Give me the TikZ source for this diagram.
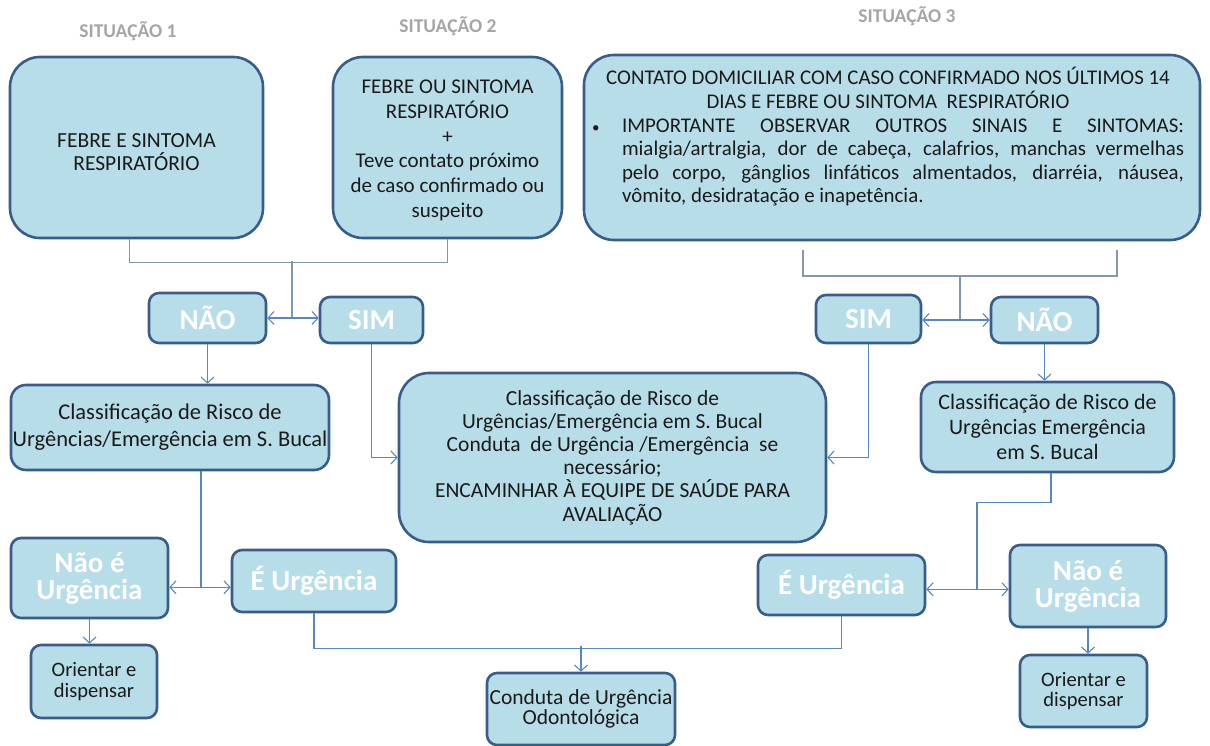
\documentclass[tikz,border=0pt]{standalone}
\usepackage{fontspec}
\setmainfont{Carlito}
\usetikzlibrary{arrows.meta,calc}
\definecolor{fillc}{HTML}{B7DDE8}
\definecolor{bdr}{HTML}{385D8A}
\definecolor{arrc}{HTML}{5A86BE}
\definecolor{brkc}{HTML}{8497B0}
\definecolor{labc}{HTML}{A6A6A6}
\definecolor{txt}{HTML}{1A1A1A}
\tikzset{
  box/.style={draw=bdr, fill=fillc, line width=2.6pt, inner sep=0pt, align=center, text=txt},
  bigR/.style={box, rounded corners=30pt},
  midR/.style={box, rounded corners=15pt},
  smlR/.style={box, rounded corners=10pt},
  whitebig/.style={text=white, font=\fontsize{29}{27}\selectfont\bfseries},
  body/.style={font=\fontsize{21}{23}\selectfont},
  sitlab/.style={text=labc, font=\fontsize{19.5}{22}\selectfont\bfseries, inner sep=0pt},
  arr/.style={draw=arrc, line width=1.2pt, -{Straight Barb[length=6pt,width=13pt,line width=1.1pt]}},
  brk/.style={draw=brkc, line width=1.4pt},
  plain/.style={draw=arrc, line width=1.2pt}
}
\begin{document}
\begin{tikzpicture}[x=1pt,y=-1pt]
\fill[white] (0,0) rectangle (1210,746);
\useasboundingbox (0,0) rectangle (1210,746);

% situation labels
\node[sitlab] (s1) at (128,31) {SITUAÇÃO 1};
\node[sitlab] (s2) at (448,26) {SITUAÇÃO 2};
\node[sitlab] (s3) at (907,16) {SITUAÇÃO 3};

% top boxes
\node[bigR, minimum width=253pt, minimum height=181pt, body] (b1) at (136.5,147.5) {};
\node[text=txt, align=center, font=\fontsize{21.5}{23}\selectfont] (b1t) at (136.5,152) {FEBRE E SINTOMA\\RESPIRATÓRIO};
\node[bigR, minimum width=229pt, minimum height=181pt] (b2) at (447.5,147.5) {};
\node[text=txt, align=center, font=\fontsize{21}{24.7}\selectfont] (b2t) at (447.5,150.5) {FEBRE OU SINTOMA\\RESPIRATÓRIO\\+\\Teve contato próximo\\de caso confirmado ou\\suspeito};
\node[bigR, minimum width=616pt, minimum height=185pt] (b3) at (892,147.5) {};
\node[text=txt, inner sep=0pt, font=\fontsize{20.9}{23.6}\selectfont] (b3t) at (888,137) {\parbox{592pt}{%
\emergencystretch=20pt
{\centering CONTATO DOMICILIAR COM CASO CONFIRMADO NOS ÚLTIMOS 14\\ DIAS E FEBRE OU SINTOMA~~RESPIRATÓRIO\par}
\hangindent=30pt\hangafter=1\noindent\makebox[30pt][l]{\fontsize{15}{15}\selectfont•}IMPORTANTE OBSERVAR OUTROS SINAIS E SINTOMAS:\linebreak
mialgia/artralgia, dor de cabeça, calafrios, manchas vermelhas\linebreak
pelo corpo, gânglios linfáticos almentados, diarréia, náusea,\linebreak
vômito, desidratação e inapetência.\par}};

% decision boxes
\node[smlR, minimum width=117pt, minimum height=50pt, whitebig] (nao1) at (207.5,318) {NÃO};
\node[smlR, minimum width=103pt, minimum height=46pt, whitebig] (sim1) at (371.5,320) {SIM};
\node[smlR, minimum width=105pt, minimum height=48pt, whitebig] (sim2) at (868.5,319) {SIM};
\node[smlR, minimum width=107pt, minimum height=46pt, whitebig] (nao2) at (1044.5,320) {NÃO};

% classification boxes
\node[midR, minimum width=318pt, minimum height=85pt, font=\fontsize{22.5}{27}\selectfont] (class1) at (170,427.5) {Classificação de Risco de\\Urgências/Emergência em S. Bucal};
\node[bigR, minimum width=427pt, minimum height=169pt, font=\fontsize{21.5}{23.2}\selectfont] (center) at (612.5,457.5) {Classificação de Risco de\\Urgências/Emergência em S. Bucal\\Conduta~ de Urgência /Emergência~ se\\necessário;\\ENCAMINHAR À EQUIPE DE SAÚDE PARA\\AVALIAÇÃO};
\node[midR, minimum width=253pt, minimum height=90pt, font=\fontsize{22}{25}\selectfont] (class2) at (1047.5,427) {Classificação de Risco de\\Urgências Emergência\\em S. Bucal};

% urgency boxes
\node[smlR, minimum width=157pt, minimum height=80pt, whitebig] (naoe1) at (89.5,578) {Não é\\Urgência};
\node[smlR, minimum width=164pt, minimum height=62pt, whitebig] (eurg1) at (314,581) {É Urgência};
\node[smlR, minimum width=167pt, minimum height=60pt, whitebig] (eurg2) at (841.5,585) {É Urgência};
\node[smlR, minimum width=156pt, minimum height=82pt, whitebig] (naoe2) at (1088,586) {Não é\\Urgência};

% final boxes
\node[smlR, minimum width=126pt, minimum height=73pt, font=\fontsize{20.5}{20.5}\selectfont] (ori1) at (94,681.5) {Orientar e\\dispensar};
\node[smlR, minimum width=127pt, minimum height=72pt, font=\fontsize{20.5}{20.5}\selectfont] (ori2) at (1083.5,691) {Orientar e\\dispensar};
\node[smlR, minimum width=188pt, minimum height=72pt, font=\fontsize{21.5}{20.5}\selectfont] (conduta) at (581,709) {Conduta de Urgência\\Odontológica};

% top-left bracket
\draw[brk] ([xshift=-7pt]b1.south) -- ++(0,23) coordinate (tl) -| (b2.south);
\coordinate (j1t) at (292,261);
\coordinate (j1) at (292,318);
\draw[brk] (j1t) -- (j1);
\draw[arr] (j1) -- (j1 -| nao1.east);
\draw[arr] (j1) -- (j1 -| sim1.west);

% top-right bracket
\coordinate (r1) at (803,250);
\coordinate (r2) at (1117,250);
\coordinate (j2t) at (960,276);
\coordinate (j2) at (960,320);
\draw[brk] (r1) -- (r1 |- j2t) -- (r2 |- j2t) -- (r2);
\draw[brk] (j2t) -- (j2);
\draw[arr] (j2) -- (j2 -| sim2.east);
\draw[arr] (j2) -- (j2 -| nao2.west);

% decisions to next
\draw[arr] (nao1.south) -- (nao1.south |- class1.north);
\draw[arr] (nao2.south) -- (nao2.south |- class2.north);
\draw[arr] (sim1.south) |- (center.west);
\draw[arr] (sim2.south) |- (center.east);

% classification to urgency
\draw[plain] ([xshift=31pt]class1.south) -- ++(0,116) coordinate (j3);
\draw[arr] (j3) -- (j3 -| naoe1.east);
\draw[arr] (j3) -- (j3 -| eurg1.west);
\draw[plain] ([xshift=3.5pt]class2.south) -- ++(0,29) -- ++(-74,0) -- ++(0,87) coordinate (j4);
\draw[arr] (j4) -- (j4 -| eurg2.east);
\draw[arr] (j4) -- (j4 -| naoe2.west);

% urgency to final
\draw[arr] (naoe1.south) -- (naoe1.south |- ori1.north);
\draw[arr] (naoe2.south) -- (naoe2.south |- ori2.north);
\draw[plain] (eurg1.south) -- ++(0,35) -| (eurg2.south);
\draw[arr] (conduta.north) ++(0,-26) coordinate (j5) -- (conduta.north);
\end{tikzpicture}
\end{document}
